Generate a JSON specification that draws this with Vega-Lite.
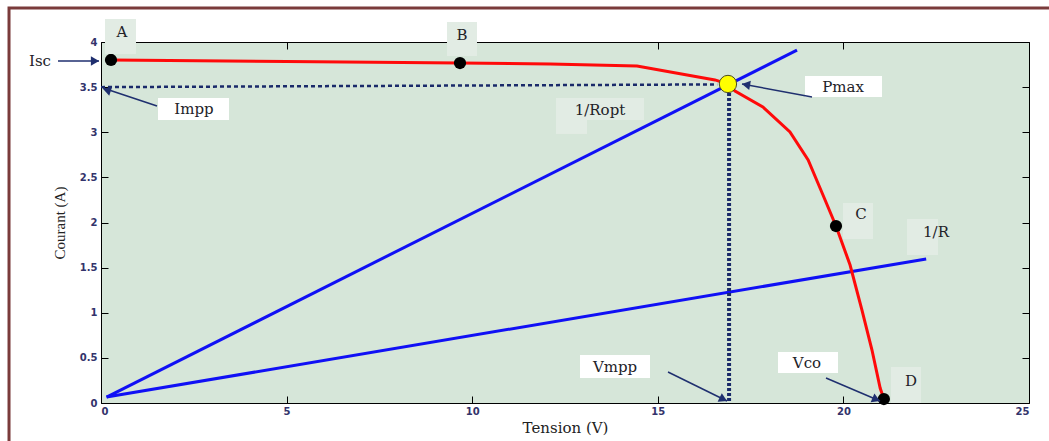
{
  "$schema": "https://vega.github.io/schema/vega-lite/v6.json",
  "width": 928,
  "height": 361,
  "autosize": {"type": "none"},
  "padding": {"left": 101, "top": 42, "right": 20, "bottom": 38},
  "background": "#ffffff",
  "config": {
    "view": {"stroke": null, "fill": "#d6e6d9"},
    "axis": {
      "grid": false,
      "domainColor": "#000000",
      "domainWidth": 1,
      "tickColor": "#000000",
      "tickSize": -7,
      "labelFont": "DejaVu Sans",
      "labelFontSize": 10,
      "labelFontWeight": "bold",
      "labelColor": "#33336b",
      "titleFont": "DejaVu Serif",
      "titleFontWeight": "normal",
      "titleColor": "#222222"
    }
  },
  "datasets": {
    "frame": [{"x": -2.478, "x2": 25.9, "y": 4.377, "y2": -0.6}],
    "curve": [
      {"v": 0.269, "i": 3.801}, {"v": 5.0, "i": 3.785}, {"v": 9.671, "i": 3.767},
      {"v": 12.1, "i": 3.756}, {"v": 14.44, "i": 3.734}, {"v": 16.54, "i": 3.58},
      {"v": 16.89, "i": 3.535}, {"v": 17.08, "i": 3.457}, {"v": 17.83, "i": 3.28},
      {"v": 18.56, "i": 3.003}, {"v": 19.05, "i": 2.693}, {"v": 19.45, "i": 2.305},
      {"v": 19.8, "i": 1.961}, {"v": 20.18, "i": 1.529}, {"v": 20.5, "i": 1.03},
      {"v": 20.77, "i": 0.587}, {"v": 20.99, "i": 0.166}, {"v": 21.09, "i": 0.044}
    ],
    "loads": [
      {"name": "1/Ropt", "x": 0.15, "y": 0.066, "x2": 18.75, "y2": 3.91},
      {"name": "1/R", "x": 0.15, "y": 0.066, "x2": 22.23, "y2": 1.596}
    ],
    "imppLine": [{"x": 0, "y": 3.5, "x2": 16.6, "y2": 3.53}],
    "vmppLine": [{"x": 16.92, "y": 3.435, "x2": 16.92, "y2": 0}],
    "points": [
      {"name": "A", "v": 0.269, "i": 3.801},
      {"name": "B", "v": 9.671, "i": 3.767},
      {"name": "C", "v": 19.8, "i": 1.961},
      {"name": "D", "v": 21.09, "i": 0.044}
    ],
    "pmax": [{"v": 16.89, "i": 3.535}],
    "markerBoxes": [
      {"name": "A", "x": 0.108, "x2": 0.943, "y": 4.255, "y2": 3.867},
      {"name": "B", "x": 9.321, "x2": 10.129, "y": 4.222, "y2": 3.845},
      {"name": "C", "x": 19.989, "x2": 20.797, "y": 2.216, "y2": 1.817},
      {"name": "1/R", "x": 21.713, "x2": 22.548, "y": 2.039, "y2": 1.64},
      {"name": "D", "x": 21.282, "x2": 22.091, "y": 0.399, "y2": 0.0},
      {"name": "1/Ropt", "x": 12.258, "x2": 14.628, "y": 3.38, "y2": 3.136},
      {"name": "1/Ropt", "x": 12.258, "x2": 13.093, "y": 3.136, "y2": 2.981}
    ],
    "calloutBoxes": [
      {"name": "Impp", "x": 1.536, "x2": 3.448, "y": 3.38, "y2": 3.136},
      {"name": "Pmax", "x": 18.966, "x2": 21.04, "y": 3.623, "y2": 3.391},
      {"name": "Vmpp", "x": 12.904, "x2": 14.79, "y": 0.532, "y2": 0.277},
      {"name": "Vco", "x": 18.238, "x2": 19.855, "y": 0.565, "y2": 0.332}
    ],
    "arrows": [
      {"name": "Isc", "x": -1.158, "y": 3.789, "x2": -0.054, "y2": 3.789, "hx": -0.162, "hy": 3.789, "angle": 0},
      {"name": "Impp", "x": 1.509, "y": 3.291, "x2": 0.054, "y2": 3.49, "hx": 0.156, "hy": 3.468, "angle": 198},
      {"name": "Pmax", "x": 19.154, "y": 3.391, "x2": 17.268, "y2": 3.535, "hx": 17.376, "hy": 3.527, "angle": 190},
      {"name": "Vmpp", "x": 15.275, "y": 0.343, "x2": 16.864, "y2": 0.022, "hx": 16.767, "hy": 0.042, "angle": 26},
      {"name": "Vco", "x": 19.531, "y": 0.277, "x2": 20.986, "y2": 0.022, "hx": 20.886, "hy": 0.04, "angle": 23}
    ],
    "texts": [
      {"text": "A", "x": 0.566, "y": 4.111},
      {"text": "B", "x": 9.725, "y": 4.078},
      {"text": "C", "x": 20.474, "y": 2.094},
      {"text": "D", "x": 21.821, "y": 0.244},
      {"text": "1/R", "x": 22.495, "y": 1.895},
      {"text": "1/Ropt", "x": 13.443, "y": 3.247},
      {"text": "Isc", "x": -1.643, "y": 3.789},
      {"text": "Impp", "x": 2.505, "y": 3.258},
      {"text": "Pmax", "x": 19.989, "y": 3.501},
      {"text": "Vmpp", "x": 13.847, "y": 0.399},
      {"text": "Vco", "x": 19.019, "y": 0.443}
    ]
  },
  "resolve": {"axis": {"x": "independent", "y": "independent"}},
  "layer": [
    {
      "data": {"name": "frame"},
      "mark": {"type": "rect", "fillOpacity": 0, "stroke": "#7a3b3b", "strokeWidth": 3},
      "encoding": {
        "x": {
          "field": "x", "type": "quantitative",
          "scale": {"domain": [0, 25], "nice": false, "zero": false},
          "axis": {
            "orient": "bottom", "values": [0, 5, 10, 15, 20, 25], "format": "~g",
            "title": "Tension (V)", "titleFontSize": 15, "titlePadding": 4,
            "labelPadding": 10
          }
        },
        "x2": {"field": "x2"},
        "y": {
          "field": "y", "type": "quantitative",
          "scale": {"domain": [0, 4], "nice": false, "zero": false},
          "axis": {
            "orient": "left", "values": [0, 0.5, 1, 1.5, 2, 2.5, 3, 3.5, 4], "format": "~g",
            "title": "Courant (A)", "titleFont": "Liberation Serif", "titleFontSize": 15,
            "titlePadding": 12, "labelPadding": 11
          }
        },
        "y2": {"field": "y2"}
      }
    },
    {
      "data": {"name": "loads"},
      "mark": {"type": "rule", "color": "#1010f5", "strokeWidth": 3},
      "encoding": {
        "x": {
          "field": "x", "type": "quantitative",
          "axis": {"orient": "top", "values": [0, 5, 10, 15, 20, 25], "labels": false, "title": null}
        },
        "y": {
          "field": "y", "type": "quantitative",
          "axis": {"orient": "right", "values": [0, 0.5, 1, 1.5, 2, 2.5, 3, 3.5, 4], "labels": false, "title": null}
        },
        "x2": {"field": "x2"},
        "y2": {"field": "y2"}
      }
    },
    {
      "data": {"name": "imppLine"},
      "mark": {"type": "rule", "color": "#1a2a6a", "strokeWidth": 2.5, "strokeDash": [4, 3]},
      "encoding": {
        "x": {"field": "x", "type": "quantitative", "axis": null},
        "y": {"field": "y", "type": "quantitative", "axis": null},
        "x2": {"field": "x2"},
        "y2": {"field": "y2"}
      }
    },
    {
      "data": {"name": "vmppLine"},
      "mark": {"type": "rule", "color": "#1a2a6a", "strokeWidth": 4, "strokeDash": [3, 2]},
      "encoding": {
        "x": {"field": "x", "type": "quantitative", "axis": null},
        "y": {"field": "y", "type": "quantitative", "axis": null},
        "x2": {"field": "x2"},
        "y2": {"field": "y2"}
      }
    },
    {
      "data": {"name": "curve"},
      "mark": {"type": "line", "color": "#ff0a0a", "strokeWidth": 3},
      "encoding": {
        "x": {"field": "v", "type": "quantitative", "axis": null},
        "y": {"field": "i", "type": "quantitative", "axis": null},
        "order": {"field": "v", "type": "quantitative"}
      }
    },
    {
      "data": {"name": "points"},
      "mark": {"type": "circle", "color": "#000000", "opacity": 1, "size": 150},
      "encoding": {
        "x": {"field": "v", "type": "quantitative", "axis": null},
        "y": {"field": "i", "type": "quantitative", "axis": null}
      }
    },
    {
      "data": {"name": "pmax"},
      "mark": {"type": "point", "shape": "circle", "filled": true, "fill": "#ffff00", "stroke": "#4a4a20", "strokeWidth": 1, "opacity": 1, "size": 300},
      "encoding": {
        "x": {"field": "v", "type": "quantitative", "axis": null},
        "y": {"field": "i", "type": "quantitative", "axis": null}
      }
    },
    {
      "data": {"name": "markerBoxes"},
      "mark": {"type": "rect", "fill": "#e2ece4"},
      "encoding": {
        "x": {"field": "x", "type": "quantitative", "axis": null},
        "x2": {"field": "x2"},
        "y": {"field": "y", "type": "quantitative", "axis": null},
        "y2": {"field": "y2"}
      }
    },
    {
      "data": {"name": "calloutBoxes"},
      "mark": {"type": "rect", "fill": "#ffffff"},
      "encoding": {
        "x": {"field": "x", "type": "quantitative", "axis": null},
        "x2": {"field": "x2"},
        "y": {"field": "y", "type": "quantitative", "axis": null},
        "y2": {"field": "y2"}
      }
    },
    {
      "data": {"name": "arrows"},
      "mark": {"type": "rule", "color": "#1f2f6f", "strokeWidth": 1.5},
      "encoding": {
        "x": {"field": "x", "type": "quantitative", "axis": null},
        "y": {"field": "y", "type": "quantitative", "axis": null},
        "x2": {"field": "x2"},
        "y2": {"field": "y2"}
      }
    },
    {
      "data": {"name": "arrows"},
      "mark": {"type": "point", "shape": "triangle-right", "filled": true, "color": "#1f2f6f", "opacity": 1, "size": 90},
      "encoding": {
        "x": {"field": "hx", "type": "quantitative", "axis": null},
        "y": {"field": "hy", "type": "quantitative", "axis": null},
        "angle": {"field": "angle", "type": "quantitative", "scale": null}
      }
    },
    {
      "data": {"name": "texts"},
      "mark": {"type": "text", "font": "DejaVu Serif", "fontSize": 15, "fontWeight": "normal", "color": "#222228", "align": "center", "baseline": "middle"},
      "encoding": {
        "x": {"field": "x", "type": "quantitative", "axis": null},
        "y": {"field": "y", "type": "quantitative", "axis": null},
        "text": {"field": "text"}
      }
    }
  ]
}
